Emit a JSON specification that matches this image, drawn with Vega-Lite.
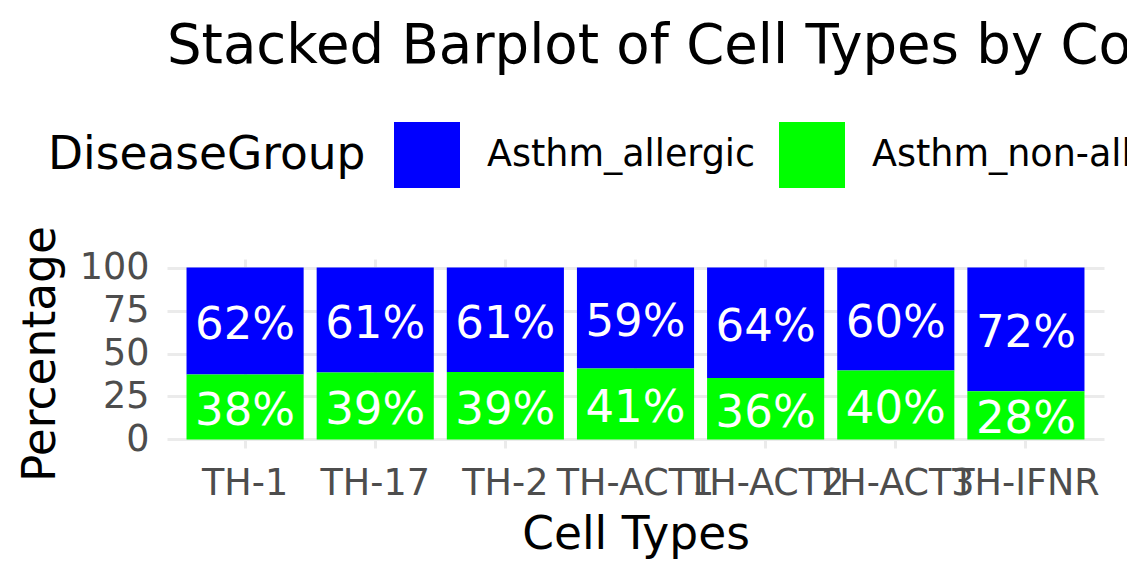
{
  "$schema": "https://vega.github.io/schema/vega-lite/v6.json",
  "width": 937,
  "height": 189,
  "autosize": {"type": "none"},
  "padding": {"left": 167, "top": 259, "right": 23, "bottom": 131},
  "background": "white",
  "config": {
    "font": "DejaVu Sans",
    "view": {"stroke": null},
    "axis": {"domain": false, "ticks": false, "gridColor": "#EBEBEB", "labelColor": "#4D4D4D", "labelFontSize": 36.5, "titleFontSize": 45.5, "titleFontWeight": "normal", "titleColor": "black", "labelLimit": 0}
  },
  "title": {
    "text": "Stacked Barplot of Cell Types by Condition",
    "anchor": "start",
    "frame": "group",
    "fontSize": 54.5,
    "fontWeight": "normal",
    "color": "black",
    "offset": 48,
    "limit": 0
  },
  "data": {
    "values": [
      {"cell": "TH-1", "group": "Asthm_allergic", "pct": 62.2, "label": "62%"},
      {"cell": "TH-1", "group": "Asthm_non-allergic", "pct": 37.8, "label": "38%"},
      {"cell": "TH-17", "group": "Asthm_allergic", "pct": 61.1, "label": "61%"},
      {"cell": "TH-17", "group": "Asthm_non-allergic", "pct": 38.9, "label": "39%"},
      {"cell": "TH-2", "group": "Asthm_allergic", "pct": 60.8, "label": "61%"},
      {"cell": "TH-2", "group": "Asthm_non-allergic", "pct": 39.2, "label": "39%"},
      {"cell": "TH-ACT1", "group": "Asthm_allergic", "pct": 58.8, "label": "59%"},
      {"cell": "TH-ACT1", "group": "Asthm_non-allergic", "pct": 41.2, "label": "41%"},
      {"cell": "TH-ACT2", "group": "Asthm_allergic", "pct": 64.2, "label": "64%"},
      {"cell": "TH-ACT2", "group": "Asthm_non-allergic", "pct": 35.8, "label": "36%"},
      {"cell": "TH-ACT3", "group": "Asthm_allergic", "pct": 59.9, "label": "60%"},
      {"cell": "TH-ACT3", "group": "Asthm_non-allergic", "pct": 40.1, "label": "40%"},
      {"cell": "TH-IFNR", "group": "Asthm_allergic", "pct": 72.0, "label": "72%"},
      {"cell": "TH-IFNR", "group": "Asthm_non-allergic", "pct": 28.0, "label": "28%"}
    ]
  },
  "transform": [
    {"stack": "pct", "groupby": ["cell"], "sort": [{"field": "group", "order": "descending"}], "as": ["y0", "y1"]},
    {"calculate": "(datum.y0 + datum.y1) / 2", "as": "ymid"}
  ],
  "encoding": {
    "x": {
      "field": "cell",
      "type": "nominal",
      "scale": {"paddingInner": 0.1, "paddingOuter": 0.15},
      "axis": {"title": "Cell Types", "labelAngle": 0, "labelPadding": 17, "titlePadding": 11, "grid": true, "gridWidth": 3, "bandPosition": 0.5}
    }
  },
  "layer": [
    {
      "mark": {"type": "bar"},
      "encoding": {
        "y": {
          "field": "y0",
          "type": "quantitative",
          "scale": {"domain": [-5, 105], "nice": false},
          "axis": {
            "title": "Percentage",
            "values": [0, 12.5, 25, 37.5, 50, 62.5, 75, 87.5, 100],
            "labelExpr": "datum.value % 25 === 0 ? datum.label : ''",
            "gridWidth": {"condition": {"test": "datum.value % 25 === 0", "value": 3}, "value": 1.5},
            "labelPadding": 18,
            "titlePadding": 15
          }
        },
        "y2": {"field": "y1"},
        "color": {
          "field": "group",
          "type": "nominal",
          "scale": {"domain": ["Asthm_allergic", "Asthm_non-allergic"], "range": ["#0000FF", "#00FF00"]},
          "legend": {
            "title": "DiseaseGroup",
            "orient": "none",
            "legendX": -119,
            "legendY": -137,
            "direction": "horizontal",
            "titleOrient": "left",
            "titleFontSize": 45.5,
            "titleFontWeight": "normal",
            "titleColor": "black",
            "titlePadding": 28,
            "titleBaseline": "middle",
            "titleAnchor": "middle",
            "titleLimit": 0,
            "labelFontSize": 36.5,
            "labelColor": "black",
            "labelLimit": 0,
            "labelOffset": 27,
            "columnPadding": 23,
            "symbolType": "square",
            "symbolSize": 4356,
            "symbolStrokeWidth": 0,
            "symbolOpacity": 1
          }
        }
      }
    },
    {
      "mark": {"type": "text", "color": "white", "fontSize": 45, "baseline": "middle", "dy": 4},
      "encoding": {
        "y": {"field": "ymid", "type": "quantitative"},
        "text": {"field": "label"}
      }
    }
  ]
}
